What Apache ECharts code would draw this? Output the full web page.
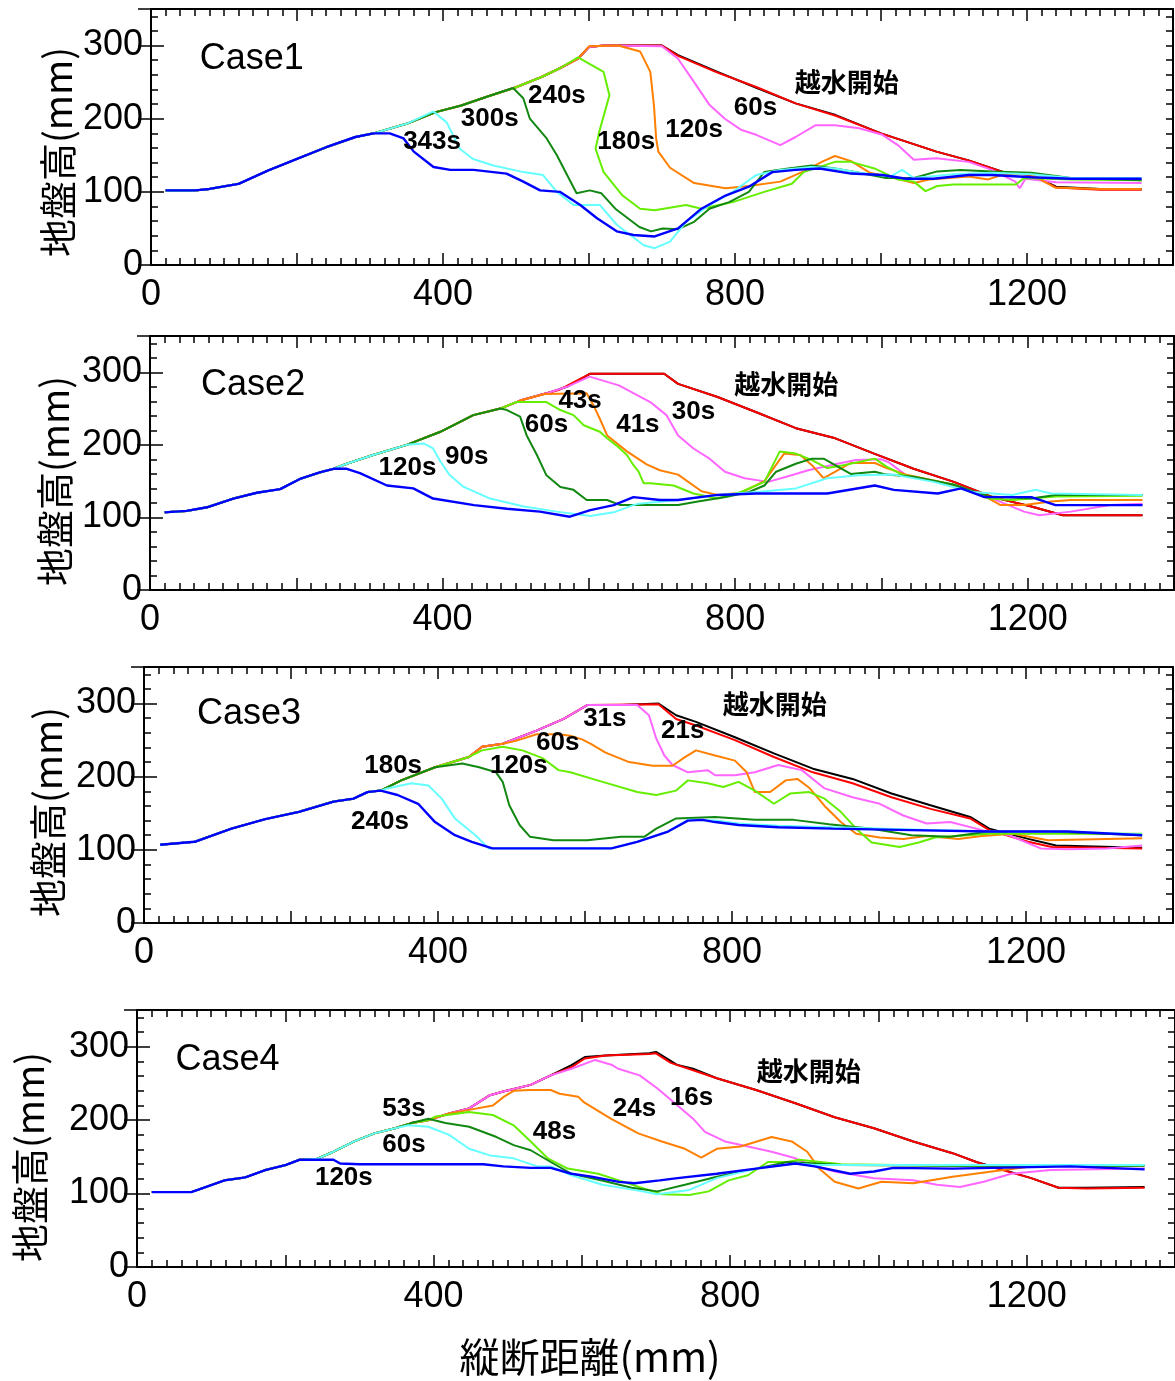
<!DOCTYPE html>
<html>
<head>
<meta charset="utf-8">
<title>地盤高 縦断分布</title>
<script src="https://cdn.jsdelivr.net/npm/echarts@6/dist/echarts.min.js"></script>
<style>
html, body { margin: 0; padding: 0; background: #fff; }
#chart { width: 1175px; height: 1381px; }
</style>
</head>
<body>
<div id="chart"></div>
<script>
// ---- Case1 ----  [縦断距離 mm, 地盤高 mm]
const case1_initial = [[20,102],[60,102],[80,104],[120,111],[160,129],[200,145],[240,161],[280,175],[305,180],[350,193],[390,209],[425,218],[460,230],[500,243],[535,257],[560,269],[585,282],[600,298],[620,300],[700,300],[722,287],[776,264],[830,242],[883,221],[938,205],[1000,180],[1076,155],[1120,143],[1168,127],[1206,123],[1240,107],[1300,104],[1357,104]];
const case1_overtop = [[600,298],[620,300],[700,300],[722,286],[776,263],[830,243],[883,221],[938,204],[1000,180],[1076,155],[1120,143],[1168,127],[1206,123],[1240,106],[1300,103],[1357,103]];
const case1_60s = [[620,300],[700,299],[722,282],[744,250],[765,219],[786,200],[808,185],[829,178],[862,164],[883,175],[910,191],[937,191],[970,187],[1002,178],[1023,164],[1045,144],[1076,146],[1120,141],[1152,130],[1184,114],[1190,105],[1198,118],[1240,113],[1357,112]];
const case1_120s = [[600,299],[640,300],[670,292],[684,264],[689,218],[692,173],[695,155],[711,133],[744,112],[787,105],[819,108],[862,114],[894,128],[921,142],[937,149],[959,142],[985,126],[1018,119],[1045,112],[1066,117],[1120,121],[1147,117],[1168,124],[1206,124],[1238,106],[1300,104],[1357,104]];
const case1_180s = [[585,284],[620,264],[628,232],[614,182],[609,159],[620,127],[646,95],[670,77],[690,75],[733,82],[754,77],[797,86],[840,100],[878,111],[894,127],[937,141],[959,141],[991,132],[1023,117],[1045,114],[1061,101],[1077,108],[1099,110],[1142,110],[1185,110],[1196,119],[1260,117],[1357,116]];
const case1_240s = [[496,242],[510,228],[519,200],[542,173],[556,150],[570,123],[583,98],[601,102],[617,98],[636,77],[669,52],[685,46],[701,50],[722,49],[744,59],[765,77],[792,86],[819,100],[840,127],[873,132],[905,136],[937,132],[970,126],[1007,119],[1045,119],[1077,128],[1109,130],[1152,128],[1206,126],[1260,119],[1357,116]];
const case1_300s = [[387,210],[405,195],[423,159],[441,145],[469,136],[510,127],[537,123],[556,100],[579,82],[615,82],[638,55],[675,27],[690,23],[711,32],[733,59],[765,82],[797,100],[829,123],[862,130],[905,134],[937,132],[970,126],[1013,121],[1029,130],[1045,119],[1099,124],[1152,126],[1206,124],[1260,119],[1357,119]];
const case1_343s = [[305,180],[327,180],[346,173],[360,155],[387,134],[410,130],[442,130],[487,125],[510,114],[533,102],[560,100],[588,82],[611,64],[638,46],[661,41],[690,39],[722,50],[754,77],[787,95],[819,107],[851,127],[883,130],[916,132],[959,125],[1002,123],[1034,118],[1072,118],[1120,123],[1152,123],[1206,120],[1260,118],[1357,118]];
const case1_labels = [[138,282,'Case1'],[385,169,'343s'],[464,200,'300s'],[556,231,'240s'],[651,168,'180s'],[744,185,'120s'],[828,215,'60s'],[953,247,'越水開始']];

// ---- Case2 ----
const case2_initial = [[20,107],[50,109],[78,114],[114,126],[146,134],[178,139],[205,153],[232,162],[251,167],[269,174],[305,186],[351,200],[397,218],[442,241],[479,250],[506,261],[542,271],[570,280],[602,298],[650,298],[703,298],[722,284],[776,266],[829,245],[883,223],[937,209],[990,188],[1044,167],[1099,149],[1152,128],[1205,115],[1248,103],[1357,103]];
const case2_overtop = [[560,276],[602,298],[703,298],[722,284],[776,266],[829,245],[883,223],[937,209],[990,188],[1044,167],[1099,149],[1152,128],[1205,115],[1248,103],[1357,103]];
const case2_30s = [[601,294],[641,282],[684,259],[706,241],[722,213],[743,195],[765,181],[786,163],[813,154],[845,149],[870,156],[900,165],[940,174],[965,179],[1000,180],[1010,176],[1034,158],[1099,144],[1152,126],[1195,108],[1216,103],[1259,108],[1313,117],[1357,119]];
const case2_41s = [[540,270],[597,271],[606,255],[615,236],[625,213],[652,191],[679,173],[697,165],[722,159],[754,136],[776,131],[808,134],[840,150],[859,177],[867,188],[889,186],[905,172],[921,154],[937,163],[958,175],[991,175],[1007,168],[1034,159],[1099,145],[1147,126],[1163,117],[1195,117],[1232,122],[1259,124],[1357,124]];
const case2_43s = [[501,259],[542,259],[561,248],[579,241],[593,227],[615,218],[625,209],[638,199],[652,186],[661,172],[668,163],[675,147],[684,147],[716,144],[743,133],[776,126],[808,135],[840,149],[861,191],[883,188],[905,179],[926,168],[948,172],[991,181],[1007,170],[1028,159],[1099,145],[1147,126],[1179,124],[1238,129],[1357,130]];
const case2_60s = [[488,248],[506,239],[515,213],[529,186],[542,158],[561,142],[579,138],[597,124],[625,124],[643,117],[697,117],[722,117],[749,122],[787,128],[819,135],[840,144],[856,163],[883,174],[905,181],[921,181],[958,160],[991,163],[1007,159],[1044,156],[1099,145],[1147,129],[1205,126],[1238,131],[1357,131]];
const case2_90s = [[374,202],[387,195],[397,177],[410,158],[429,142],[465,126],[511,115],[556,108],[602,102],[634,107],[661,117],[668,119],[722,124],[776,131],[829,135],[883,140],[926,154],[969,158],[1017,159],[1071,149],[1125,135],[1179,131],[1211,138],[1232,133],[1357,131]];
const case2_120s = [[269,167],[287,161],[324,144],[360,140],[387,126],[443,117],[488,112],[533,108],[574,101],[602,110],[634,117],[661,128],[697,124],[722,124],[776,131],[829,133],[926,133],[991,144],[1017,138],[1077,133],[1109,140],[1141,128],[1205,128],[1238,117],[1357,117]];
const case2_labels = [[141,282,'Case2'],[352,169,'120s'],[433,183,'90s'],[542,228,'60s'],[588,261,'43s'],[667,227,'41s'],[743,245,'30s'],[870,280,'越水開始']];

// ---- Case3 ----
const case3_initial = [[22,107],[69,111],[119,129],[165,142],[211,152],[258,166],[285,170],[304,179],[322,181],[350,195],[396,213],[442,227],[460,241],[488,245],[534,263],[571,279],[603,298],[650,298],[700,300],[724,284],[751,275],[804,254],[857,232],[910,211],[964,197],[1017,177],[1070,161],[1124,145],[1150,129],[1203,115],[1241,106],[1358,103]];
const case3_overtop = [[603,298],[700,299],[724,279],[751,270],[804,250],[857,227],[910,206],[964,191],[1017,172],[1070,156],[1124,143],[1150,127],[1203,111],[1235,104],[1358,102]];
const case3_21s = [[650,298],[671,298],[687,284],[697,252],[708,229],[719,216],[740,206],[767,209],[777,202],[804,202],[831,206],[863,216],[895,209],[926,184],[964,172],[1001,163],[1033,147],[1065,136],[1097,138],[1140,127],[1177,120],[1220,102],[1257,101],[1310,102],[1358,106]];
const case3_31s = [[506,249],[534,258],[564,258],[580,256],[596,251],[608,245],[628,233],[660,220],[692,215],[719,215],[735,226],[751,236],[777,229],[804,222],[820,206],[831,179],[852,179],[873,195],[889,197],[905,185],[926,160],[948,138],[969,122],[1001,117],[1033,115],[1065,119],[1108,115],[1140,119],[1182,122],[1230,113],[1358,116]];
const case3_60s = [[460,236],[488,241],[515,236],[543,225],[564,209],[580,206],[617,195],[671,179],[697,175],[724,181],[740,195],[767,191],[788,186],[809,193],[831,181],[857,163],[879,177],[905,179],[926,170],[948,152],[969,129],[990,110],[1028,104],[1054,110],[1076,117],[1150,122],[1358,122]];
const case3_120s = [[396,213],[433,218],[456,213],[479,206],[488,193],[497,161],[511,134],[525,118],[557,113],[603,113],[649,118],[681,118],[697,129],[724,143],[777,145],[831,141],[884,141],[932,135],[990,129],[1044,120],[1097,118],[1150,125],[1230,125],[1358,120]];
const case3_180s = [[331,184],[364,191],[387,188],[405,170],[423,143],[451,120],[469,102],[520,102],[600,102],[636,102],[671,111],[713,125],[740,141],[777,140],[809,136],[863,133],[937,131],[1044,128],[1150,125],[1257,125],[1358,121]];
const case3_240s = [[322,181],[345,175],[373,163],[396,138],[423,120],[446,111],[474,102],[636,102],[671,111],[713,125],[740,140],[760,141],[777,138],[809,134],[863,131],[937,129],[1044,127],[1150,125],[1257,125],[1358,120]];
const case3_labels = [[143,285,'Case3'],[321,138,'240s'],[339,215,'180s'],[510,215,'120s'],[563,246,'60s'],[627,279,'31s'],[733,263,'21s'],[858,295,'越水開始']];

// ---- Case4 ----
const case4_initial = [[20,102],[73,102],[82,105],[118,118],[146,122],[173,132],[201,139],[219,146],[242,147],[265,157],[293,171],[320,182],[348,189],[370,196],[393,200],[421,209],[448,216],[476,234],[494,239],[531,248],[558,261],[586,275],[604,286],[632,288],[691,291],[700,293],[729,275],[750,270],[782,257],[835,241],[888,223],[941,204],[994,189],[1047,171],[1100,155],[1132,143],[1153,137],[1206,121],[1243,108],[1280,108],[1359,109]];
const case4_overtop = [[586,272],[604,284],[632,288],[691,290],[700,291],[720,278],[750,268],[782,257],[835,241],[888,223],[941,204],[994,189],[1047,171],[1100,155],[1132,143],[1153,136],[1206,121],[1243,108],[1280,107],[1359,108]];
const case4_16s = [[586,270],[618,282],[641,275],[649,270],[678,261],[702,243],[729,220],[750,202],[766,184],[793,171],[824,164],[856,157],[888,148],[909,139],[941,130],[994,121],[1047,118],[1079,112],[1110,109],[1142,116],[1179,127],[1232,132],[1359,134]];
const case4_24s = [[421,209],[448,214],[480,220],[495,232],[508,240],[530,241],[558,241],[570,236],[595,232],[602,225],[639,202],[676,182],[708,171],[739,161],[761,149],[782,161],[814,164],[856,177],[883,171],[904,157],[920,134],[941,116],[973,107],[1004,116],[1047,114],[1100,123],[1153,130],[1214,138]];
const case4_48s = [[403,205],[448,211],[480,207],[508,193],[531,171],[554,148],[581,134],[622,127],[650,118],[677,109],[708,99],[745,98],[771,103],[798,118],[824,125],[851,143],[877,143],[893,146],[950,140],[1100,138],[1359,138]];
const case4_53s = [[393,202],[416,196],[448,191],[485,177],[508,166],[531,159],[558,143],[586,127],[630,117],[667,108],[702,103],[739,112],[782,123],[835,134],[877,143],[899,142],[950,139],[1100,138],[1359,138]];
const case4_60s = [[366,193],[393,191],[421,180],[448,161],[476,152],[508,148],[540,137],[558,137],[586,125],[628,112],[676,104],[702,99],[745,105],[782,121],[835,134],[888,141],[914,139],[1100,139],[1359,139]];
const case4_120s = [[242,146],[265,146],[274,141],[300,140],[467,140],[494,137],[531,135],[558,135],[586,127],[613,123],[650,116],[671,114],[705,118],[729,121],[782,127],[835,134],[888,141],[914,137],[962,127],[994,130],[1020,135],[1100,134],[1259,137],[1359,133]];
const case4_labels = [[122,282,'Case4'],[279,121,'120s'],[360,215,'53s'],[360,167,'60s'],[563,184,'48s'],[671,215,'24s'],[748,231,'16s'],[906,263,'越水開始']];

// 描画順: 初期, 越水開始, 以降の時刻 (後ろほど上に重なる)
const lineColors = ['#000000', '#ff0000', '#ff66ff', '#ff8000', '#66ee00', '#118811', '#66ffff', '#0000ff'];

const cases = [
  { initial: case1_initial, lines: [case1_overtop, case1_60s, case1_120s, case1_180s, case1_240s, case1_300s, case1_343s], labels: case1_labels },
  { initial: case2_initial, lines: [case2_overtop, case2_30s, case2_41s, case2_43s, case2_60s, case2_90s, case2_120s], labels: case2_labels },
  { initial: case3_initial, lines: [case3_overtop, case3_21s, case3_31s, case3_60s, case3_120s, case3_180s, case3_240s], labels: case3_labels },
  { initial: case4_initial, lines: [case4_overtop, case4_16s, case4_24s, case4_48s, case4_53s, case4_60s, case4_120s], labels: case4_labels }
];

// 各パネルの配置 (px)
const grids = [
  { left: 151, top: 9, width: 1022, height: 256 },
  { left: 150, top: 336, width: 1024, height: 254 },
  { left: 144, top: 667, width: 1029, height: 256 },
  { left: 137, top: 1010, width: 1038, height: 257 }
];

const latinFont = '"Liberation Sans", Arial, sans-serif';
const cjkFont = '"Noto Sans CJK JP", sans-serif';
const mixFont = '"Liberation Sans", "Noto Sans CJK JP", sans-serif';

// 断面は初期地形に沿い、分岐点から各時刻の形状になる
function withProfile(profile, own) {
  const x0 = own[0][0];
  return profile.filter(p => p[0] < x0).concat(own);
}

let xAxes = [], yAxes = [], series = [];
const black = { color: '#000', width: 2 };

cases.forEach((c, i) => {
  ['bottom', 'top'].forEach(pos => {
    xAxes.push({
      gridIndex: i, type: 'value', position: pos, min: 0, max: 1400, interval: 200,
      axisLine: { show: true, onZero: false, lineStyle: black },
      axisTick: { show: true, inside: true, length: 12, lineStyle: { color: '#000', width: 1.5 } },
      minorTick: { show: true, splitNumber: 10, length: 7, lineStyle: { color: '#000', width: 1.5 } },
      axisLabel: {
        show: pos === 'bottom', margin: 12, color: '#000', fontSize: 36, fontFamily: latinFont,
        formatter: v => (v % 400 === 0 ? String(v) : '')
      },
      splitLine: { show: false }
    });
  });
  ['left', 'right'].forEach(pos => {
    // 20 mm 刻みの短い目盛
    yAxes.push({
      gridIndex: i, type: 'value', position: pos, min: 0, max: 350, interval: 20,
      axisLine: { show: true, onZero: false, lineStyle: black },
      axisTick: { show: true, inside: true, length: 7, lineStyle: { color: '#000', width: 1.5 } },
      axisLabel: {
        show: pos === 'left', margin: 8, color: '#000', fontSize: 36, fontFamily: latinFont,
        formatter: v => (v % 100 === 0 && v <= 300 ? String(v) : '')
      },
      splitLine: { show: false }
    });
    // 100 mm 刻みの長い目盛
    yAxes.push({
      gridIndex: i, type: 'value', position: pos, min: 0, max: 350, interval: 100,
      axisLine: { show: false },
      axisTick: { show: true, inside: true, length: 13, lineStyle: { color: '#000', width: 1.5 } },
      axisLabel: { show: false },
      splitLine: { show: false }
    });
  });

  const xi = i * 2, yi = i * 4;
  const all = [c.initial].concat(c.lines.map(l => withProfile(c.initial, l)));
  all.forEach((d, k) => {
    series.push({
      type: 'line', xAxisIndex: xi, yAxisIndex: yi, data: d,
      showSymbol: false, symbol: 'none', silent: true,
      lineStyle: { color: lineColors[k], width: k === 7 ? 2.4 : 2 },
      z: 2 + k
    });
  });

  series.push({
    type: 'scatter', xAxisIndex: xi, yAxisIndex: yi, symbolSize: 0, silent: true, z: 20,
    itemStyle: { opacity: 1 },
    data: c.labels.map(l => {
      const isTitle = /^Case/.test(l[2]);
      return {
        value: [l[0], l[1]],
        label: isTitle
          ? { formatter: l[2], color: '#000', fontSize: 36, fontWeight: 'normal', fontFamily: latinFont }
          : { formatter: l[2], color: '#000', fontSize: 26, fontWeight: 'bold', fontFamily: mixFont }
      };
    }),
    label: { show: true, position: 'inside', color: '#000', textBorderWidth: 0 }
  });
});

const yTitlePos = [[58, 152], [55, 481], [48, 812], [30, 1157]];
const graphics = yTitlePos.map(p => ({
  type: 'text', x: p[0], y: p[1], rotation: Math.PI / 2,
  style: { text: '地盤高(mm)', font: '38px ' + cjkFont, fill: '#000', align: 'center', verticalAlign: 'middle' }
}));
graphics.push({
  type: 'text', x: 590, y: 1357,
  style: { text: '縦断距離(mm)', font: '40px ' + cjkFont, fill: '#000', align: 'center', verticalAlign: 'middle' }
});

const chart = echarts.init(document.getElementById('chart'), null, { renderer: 'canvas' });
chart.setOption({
  animation: false,
  backgroundColor: '#fff',
  grid: grids.map(g => Object.assign({ show: false, containLabel: false, outerBoundsMode: 'none' }, g)),
  xAxis: xAxes,
  yAxis: yAxes,
  series: series,
  graphic: graphics
});
</script>
</body>
</html>
